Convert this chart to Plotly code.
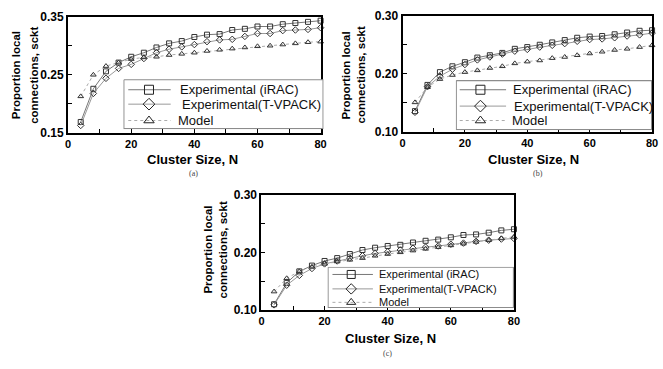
import plotly.graph_objects as go

cluster_size = [4, 8, 12, 16, 20, 24, 28, 32, 36, 40, 44, 48, 52, 56, 60, 64, 68, 72, 76, 80]

# (a)
a_irac = [0.169, 0.226, 0.256, 0.271, 0.281, 0.288, 0.297, 0.304, 0.308, 0.315, 0.319, 0.320,
          0.327, 0.329, 0.333, 0.333, 0.337, 0.339, 0.341, 0.343]
a_tvpack = [0.163, 0.218, 0.244, 0.261, 0.268, 0.278, 0.288, 0.294, 0.298, 0.302, 0.307, 0.310,
            0.311, 0.316, 0.321, 0.321, 0.326, 0.327, 0.328, 0.331]
a_model = [0.213, 0.250, 0.265, 0.271, 0.277, 0.280, 0.281, 0.284, 0.286, 0.288, 0.291, 0.293,
           0.295, 0.297, 0.299, 0.300, 0.302, 0.304, 0.306, 0.307]
# (b)
b_irac = [0.136, 0.181, 0.203, 0.213, 0.220, 0.228, 0.232, 0.236, 0.243, 0.246, 0.250, 0.254,
          0.258, 0.262, 0.264, 0.265, 0.268, 0.271, 0.274, 0.275]
b_tvpack = [0.134, 0.178, 0.196, 0.208, 0.216, 0.224, 0.229, 0.234, 0.239, 0.242, 0.246, 0.249,
            0.252, 0.256, 0.259, 0.260, 0.262, 0.265, 0.267, 0.270]
b_model = [0.151, 0.177, 0.191, 0.198, 0.203, 0.206, 0.210, 0.213, 0.218, 0.221, 0.223, 0.227,
           0.229, 0.232, 0.235, 0.238, 0.241, 0.243, 0.246, 0.249]
# (c)
c_irac = [0.110, 0.147, 0.167, 0.177, 0.185, 0.190, 0.197, 0.204, 0.208, 0.211, 0.213, 0.217,
          0.220, 0.222, 0.226, 0.230, 0.231, 0.234, 0.238, 0.240]
c_tvpack = [0.109, 0.143, 0.160, 0.172, 0.180, 0.185, 0.190, 0.194, 0.198, 0.201, 0.204, 0.207,
            0.209, 0.211, 0.214, 0.216, 0.219, 0.221, 0.223, 0.224]
c_model = [0.132, 0.155, 0.167, 0.175, 0.180, 0.184, 0.187, 0.190, 0.194, 0.197, 0.200, 0.203,
           0.206, 0.209, 0.212, 0.215, 0.218, 0.221, 0.224, 0.227]

series_names = ["Experimental (iRAC)", "Experimental(T-VPACK)", "Model"]
x_tickvals = [0, 10, 20, 30, 40, 50, 60, 70, 80]
x_ticktext = ["0", "", "20", "", "40", "", "60", "", "80"]
a_ytickvals = [0.15, 0.20, 0.25, 0.30, 0.35]
a_yticktext = ["0.15", "", "0.25", "", "0.35"]
bc_ytickvals = [0.10, 0.15, 0.20, 0.25, 0.30]
bc_yticktext = ["0.10", "", "0.20", "", "0.30"]
captions = ["(a)", "(b)", "(c)"]
x_title = "Cluster Size, N"
y_title_lines = ["Proportion local", "connections, sckt"]

W, H = 663, 369
def px(x):
    return x / W
def py(y):
    return 1 - y / H

font_family = "Liberation Sans, Arial, sans-serif"
fig = go.Figure()

styles = [
    dict(symbol="square-open", line=dict(color="#777777", width=1, dash="solid")),
    dict(symbol="diamond-open", line=dict(color="#999999", width=1, dash="solid")),
    dict(symbol="triangle-up-open", line=dict(color="#aaaaaa", width=1, dash="dot")),
]

panels = [
    ("", [a_irac, a_tvpack, a_model]),
    ("2", [b_irac, b_tvpack, b_model]),
    ("3", [c_irac, c_tvpack, c_model]),
]
for suffix, data in panels:
    for name, ys, st in zip(series_names, data, styles):
        fig.add_trace(go.Scatter(
            x=cluster_size, y=ys, name=name, mode="lines+markers",
            xaxis="x" + suffix, yaxis="y" + suffix, showlegend=False,
            line=st["line"],
            marker=dict(symbol=st["symbol"], size=5, color="#333333",
                        line=dict(width=1, color="#333333")),
            cliponaxis=False,
        ))

# plot boxes in pixels: (x0, x1, ytop, ybottom)
boxes = {
    "": (66, 322, 10, 131),
    "2": (405, 658, 9, 130),
    "3": (262, 518, 195, 315),
}
yranges = {"": [0.15, 0.35], "2": [0.10, 0.30], "3": [0.10, 0.30]}
ytv = {"": (a_ytickvals, a_yticktext), "2": (bc_ytickvals, bc_yticktext), "3": (bc_ytickvals, bc_yticktext)}

layout = dict(
    width=W, height=H, margin=dict(l=0, r=0, t=0, b=0),
    paper_bgcolor="white", plot_bgcolor="rgba(0,0,0,0)",
    font=dict(family=font_family, color="black"),
    showlegend=False,
)
for suffix, (x0, x1, yt, yb) in boxes.items():
    layout["xaxis" + suffix] = dict(
        domain=[px(x0), px(x1)], range=[0, 80], anchor="y" + suffix,
        tickvals=x_tickvals, ticktext=x_ticktext, ticks="inside", ticklen=4,
        tickcolor="black", showline=True, linecolor="black", linewidth=2, mirror=True,
        showgrid=False, zeroline=False,
        tickfont=dict(size=11, family=font_family, weight="bold"),
    )
    tv, tt = ytv[suffix]
    layout["yaxis" + suffix] = dict(
        domain=[py(yb), py(yt)], range=yranges[suffix], anchor="x" + suffix,
        tickvals=tv, ticktext=tt, ticks="inside", ticklen=4,
        tickcolor="black", showline=True, linecolor="black", linewidth=2, mirror=True,
        showgrid=False, zeroline=False,
        tickfont=dict(size=12, family=font_family, weight="bold"),
    )

# custom legend boxes: (x0, x1, ytop, ybottom), line span, marker x, text x, row ys, font size, marker size
legend_boxes = [
    dict(box=(122, 325, 75, 127), line=(5, 48), mx=26, tx=[55, 57, 53], rows=[11, 26, 43], fs=13, ms=9),
    dict(box=(459, 658, 76, 128), line=(4, 51), mx=25, tx=[56, 57, 55], rows=[10, 27, 42], fs=13, ms=9),
    dict(box=(329, 518, 270, 313), line=(5, 46), mx=24, tx=[50, 50, 50], rows=[8, 23, 37], fs=11, ms=8),
]
annotations = []
for i, lb in enumerate(legend_boxes):
    n = str(4 + i)
    x0, x1, yt, yb = lb["box"]
    w, h = x1 - x0, yb - yt
    layout["xaxis" + n] = dict(domain=[px(x0), px(x1)], range=[0, w], visible=False,
                               anchor="y" + n, fixedrange=True)
    layout["yaxis" + n] = dict(domain=[py(yb), py(yt)], range=[h, 0], visible=False,
                               anchor="x" + n, fixedrange=True)
    # box
    fig.add_trace(go.Scatter(x=[0.5, w - 0.5, w - 0.5, 0.5, 0.5], y=[0.5, 0.5, h - 0.5, h - 0.5, 0.5],
                             mode="lines", fill="toself", fillcolor="white",
                             line=dict(color="#8c8c8c", width=1.2),
                             xaxis="x" + n, yaxis="y" + n, showlegend=False, hoverinfo="skip",
                             cliponaxis=False))
    lx0, lx1 = lb["line"]
    for name, st, ry, tx in zip(series_names, styles, lb["rows"], lb["tx"]):
        fig.add_trace(go.Scatter(x=[lx0, lx1], y=[ry, ry], mode="lines", line=st["line"],
                                 xaxis="x" + n, yaxis="y" + n, showlegend=False, hoverinfo="skip",
                                 cliponaxis=False))
        fig.add_trace(go.Scatter(x=[lb["mx"]], y=[ry], mode="markers",
                                 marker=dict(symbol=st["symbol"], size=lb["ms"], color="#222222",
                                             line=dict(width=1, color="#222222")),
                                 xaxis="x" + n, yaxis="y" + n, showlegend=False, hoverinfo="skip",
                                 cliponaxis=False))
        annotations.append(dict(x=tx, y=ry, xref="x" + n, yref="y" + n, text=name,
                                showarrow=False, xanchor="left", yanchor="middle",
                                font=dict(size=lb["fs"], family=font_family, color="#111")))

fig.update_layout(**layout)

xt_pos = [(192, 159), (538, 159), (393, 345)]
cap_pos = [(193, 173), (542, 173), (390, 360)]
yt_pos = [((13, 32), 71), ((348, 363), 71), ((208, 223), 252)]
for (xx, yy), (cx, cy), cap, ((l1, l2), ymid) in zip(xt_pos, cap_pos, captions, yt_pos):
    annotations.append(dict(x=px(xx), y=py(yy), xref="paper", yref="paper", text=x_title,
                            showarrow=False, xanchor="center", yanchor="middle",
                            font=dict(size=13, family=font_family, weight="bold")))
    annotations.append(dict(x=px(cx), y=py(cy), xref="paper", yref="paper", text=cap,
                            showarrow=False, xanchor="center", yanchor="middle",
                            font=dict(size=8, family="Liberation Serif, Times New Roman, serif", color="#444")))
    for lx, line in zip((l1, l2), y_title_lines):
        annotations.append(dict(x=px(lx), y=py(ymid), xref="paper", yref="paper", text=line,
                                showarrow=False, xanchor="center", yanchor="middle", textangle=-90,
                                font=dict(size=11.5, family=font_family, weight="bold")))
fig.update_layout(annotations=annotations)

fig.write_html("out.html")
